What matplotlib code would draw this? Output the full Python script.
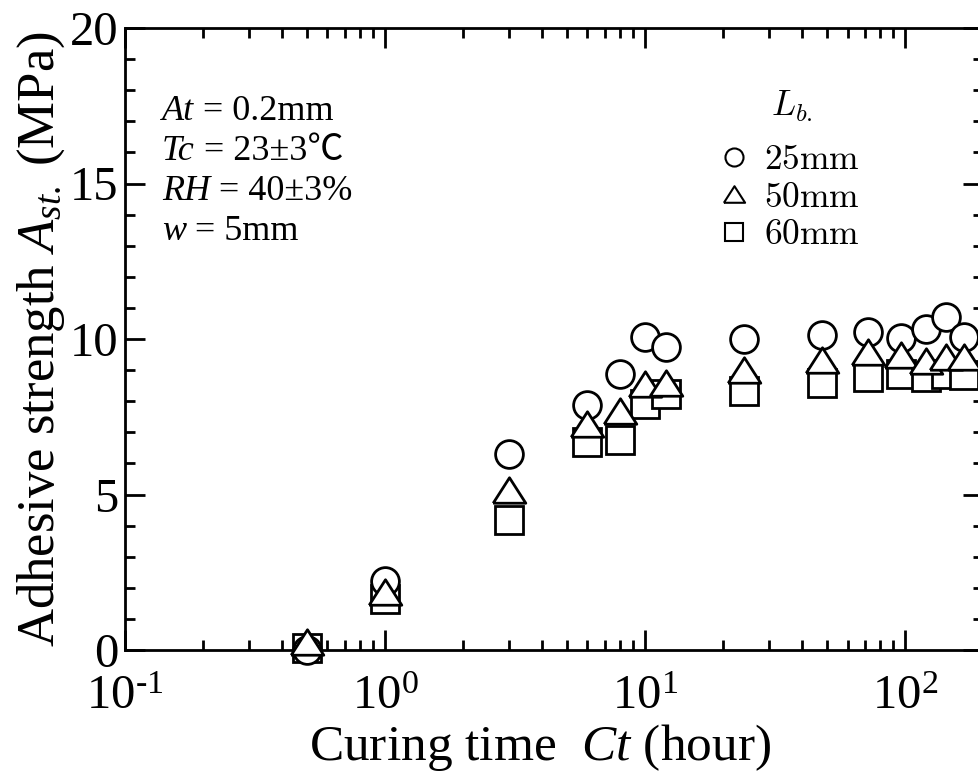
import matplotlib
matplotlib.use("Agg")
import matplotlib.pyplot as plt
from matplotlib.font_manager import FontProperties
from matplotlib.offsetbox import TextArea, HPacker, VPacker, AnchoredOffsetbox
from matplotlib.ticker import MultipleLocator, LogLocator, FuncFormatter, NullFormatter
import numpy as np

plt.rcParams['font.family'] = ['Liberation Serif', 'Noto Sans CJK JP']
plt.rcParams['mathtext.fontset'] = 'custom'
plt.rcParams['mathtext.rm'] = 'Liberation Serif'
plt.rcParams['mathtext.it'] = 'Liberation Serif:italic'
plt.rcParams['mathtext.bf'] = 'Liberation Serif:bold'
plt.rcParams['axes.unicode_minus'] = False

# Curing time (hour) and adhesive strength (MPa) for each bond length
curing_time = [0.5, 1, 3, 6, 8, 10, 12, 24, 48, 72, 96, 120, 144, 168]
strength_25mm = [0.0, 2.22, 6.3, 7.88, 8.87, 10.07, 9.73, 10.0, 10.13, 10.24, 10.02, 10.31, 10.72, 10.07]
strength_50mm = [0.25, 1.85, 5.14, 7.27, 7.7, 8.54, 8.6, 8.99, 9.31, 9.58, 9.5, 9.3, 9.43, 9.43]
strength_60mm = [0.05, 1.65, 4.19, 6.68, 6.75, 7.9, 8.24, 8.32, 8.57, 8.78, 8.88, 8.78, 8.86, 8.83]
series_labels = ['25mm', '50mm', '60mm']
# test conditions: (italic symbol, remainder)
conditions = [('At', ' = 0.2mm'), ('Tc', ' = 23±3℃'), ('RH', ' = 40±3%'), ('w', ' = 5mm')]

W, H = 979, 780
fig = plt.figure(figsize=(W / 100, H / 100), dpi=100)
left, right, top, bottom = 125, 983.5, 28, 650
ax = fig.add_axes([left / W, 1 - bottom / H, (right - left) / W, (bottom - top) / H])

def ax_xy(px, py):
    return (px - left) / (right - left), 1 - (py - top) / (bottom - top)

# wide, flat triangle marker
tri = [(-1, -0.78), (1, -0.78), (0, 0.78), (-1, -0.78)]
lw = 2.0
common = dict(linestyle='none', markerfacecolor='white', markeredgecolor='black',
              markeredgewidth=lw, clip_on=False)
h60, = ax.plot(curing_time, strength_60mm, marker='s', markersize=19.5, zorder=3, **common)
h25, = ax.plot(curing_time, strength_25mm, marker='o', markersize=20, zorder=4, **common)
h50, = ax.plot(curing_time, strength_50mm, marker=tri, markersize=23.5, zorder=5, **common)

ax.set_xscale('log')
ax.set_xlim(0.1, 200)
ax.set_ylim(0, 20)

def decade_label(v, pos):
    e = int(round(np.log10(v)))
    exp = str(e).replace('-', '\u2010')
    return r'$\mathdefault{10^{' + exp + '}}$'

ax.xaxis.set_major_locator(LogLocator(base=10, numticks=10))
ax.xaxis.set_minor_locator(LogLocator(base=10, subs=range(2, 10), numticks=20))
ax.xaxis.set_major_formatter(FuncFormatter(decade_label))
ax.xaxis.set_minor_formatter(NullFormatter())
ax.yaxis.set_major_locator(MultipleLocator(5))
ax.yaxis.set_minor_locator(MultipleLocator(1))

ax.tick_params(which='both', direction='in', top=True, right=True, width=lw, labelsize=35)
ax.tick_params(which='major', length=14.5)
ax.tick_params(which='minor', length=7.2)
ax.tick_params(axis='x', which='major', pad=18)
ax.tick_params(axis='y', which='major', pad=5)
for s in ax.spines.values():
    s.set_linewidth(lw)

ax.set_xlabel(r'Curing time  $Ct$ (hour)', fontsize=37)
ax.xaxis.set_label_coords(ax_xy(540, 0)[0], ax_xy(0, 722)[1])
ax.set_ylabel(r'Adhesive strength $A_{st.}$ (MPa)', fontsize=38, labelpad=2)

# test-condition block, upper left
rows = []
for sym, rest in conditions:
    rows.append(HPacker(children=[TextArea(sym, textprops=dict(fontsize=26, fontstyle='italic')),
                                  TextArea(rest, textprops=dict(fontsize=26))],
                        align='baseline', pad=0, sep=0))
block = VPacker(children=rows, align='left', pad=0, sep=5)
anchored = AnchoredOffsetbox(loc='upper left', child=block, pad=0, borderpad=0, frameon=False,
                             bbox_to_anchor=ax_xy(162, 95), bbox_transform=ax.transAxes)
ax.add_artist(anchored)

# bond-length key
cm_prop = FontProperties(family='DejaVu Serif', size=25.5, math_fontfamily='cm')
ax.text(*ax_xy(792, 116), r'$L_{b.}$', transform=ax.transAxes, ha='center', va='baseline',
        fontproperties=cm_prop)
leg = ax.legend([h25, h50, h60], [r'$\mathrm{' + s + '}$' for s in series_labels],
                prop=cm_prop, loc='upper left', bbox_to_anchor=ax_xy(722, 142),
                frameon=False, markerscale=0.65, handlelength=0.7, handletextpad=0.5,
                labelspacing=0.1, borderaxespad=0, borderpad=0)
for lh in leg.legend_handles:
    lh.set_markeredgewidth(1.5)

fig.savefig('out.png', dpi=100)
